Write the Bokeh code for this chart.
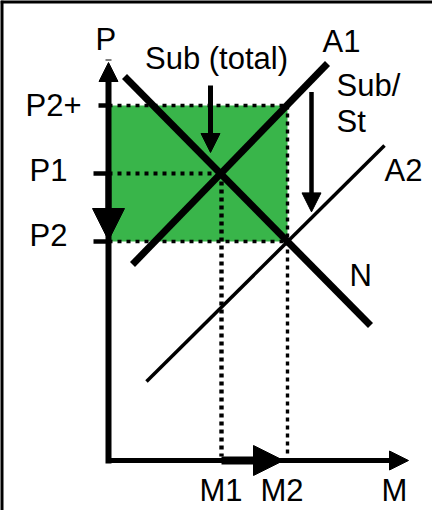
import numpy as np
from bokeh.plotting import figure
from bokeh.models import Range1d, Arrow, NormalHead, Span, ColumnDataSource
from bokeh.core.properties import value
from bokeh.embed import file_html
from bokeh.resources import INLINE

# ---- diagram values (in diagram units) ----
quantity_labels = ["M1", "M2"]
quantity_values = [11.3, 17.9]
price_labels = ["P2+", "P1", "P2"]
price_values = [35.5, 28.7, 21.9]
axis_max_m = 30.0
axis_max_p = 39.8

demand_N_x = [1.6, 26.2]
demand_N_y = [38.4, 13.5]
supply_A1_x = [2.4, 21.9]
supply_A1_y = [19.6, 39.7]
supply_A2_x = [3.8, 27.6]
supply_A2_y = [7.9, 31.5]

M1, M2 = quantity_values
P2p, P1, P2 = price_values

FONT = value("Liberation Sans")
FS = "31px"
GREEN = "#39B54A"

p = figure(width=432, height=510, x_range=Range1d(-10.8, 32.4), y_range=Range1d(-5.0, 46.0),
           output_backend="svg", toolbar_location=None, x_axis_location=None,
           y_axis_location=None, min_border=0, outline_line_color=None,
           background_fill_color="white", border_fill_color="white")
p.grid.visible = False

# frame bars (top / left)
p.add_layout(Span(location=46.0, dimension="width", line_color="black", line_width=6))
p.add_layout(Span(location=-10.8, dimension="height", line_color="black", line_width=6))

# subsidy area
p.quad(left=[0], right=[M2], bottom=[P2], top=[P2p], fill_color=GREEN, line_color=None)

# dotted guide lines
p.segment(x0=[0, 0], y0=[P2p, P2], x1=[M2, M2], y1=[P2p, P2], line_color="black",
          line_width=3.6, line_dash="4 5")
p.segment(x0=[M2], y0=[P2p], x1=[M2], y1=[0.4], line_color="black", line_width=3.4, line_dash="4 4")
p.segment(x0=[0], y0=[P1], x1=[M1], y1=[P1], line_color="black", line_width=4.2, line_dash="4 5")
p.segment(x0=[M1], y0=[P1], x1=[M1], y1=[0.4], line_color="black", line_width=4.4, line_dash="4 4")

# ticks on the price axis
p.segment(x0=[-1.0, -1.5, -1.5], y0=price_values, x1=[0, 0, 0], y1=price_values,
          line_color="black", line_width=4.5)

# curves
p.line(supply_A2_x, supply_A2_y, line_color="black", line_width=3.5)
p.line(demand_N_x, demand_N_y, line_color="black", line_width=7)
p.line(supply_A1_x, supply_A1_y, line_color="black", line_width=7)

def arrow(x0, y0, x1, y1, size, width, cap="butt"):
    p.add_layout(Arrow(end=NormalHead(size=size, fill_color="black", line_color="black", line_width=1),
                       x_start=x0, y_start=y0, x_end=x1, y_end=y1,
                       line_color="black", line_width=width, line_cap=cap))

# axes
arrow(0, 0, 0, axis_max_p, 19, 6, "square")
arrow(0, 0, axis_max_m, 0, 19, 5)

# price fall P1 -> P2 and quantity rise M1 -> M2
arrow(0, P1, 0, P2 + 0.1, 32, 6)
arrow(M1, 0, M2 - 0.4, 0, 30, 8)

# subsidy arrows
sub_x = M1 - 1.1
arrow(sub_x, 37.5, sub_x, P1 + 2.1, 19, 5)
st_x = M2 + 2.4
a1_at = np.interp(st_x, supply_A1_x, supply_A1_y)
a2_at = np.interp(st_x, supply_A2_x, supply_A2_y)
arrow(st_x, a1_at - 1.2, st_x, a2_at + 0.6, 19, 4.5)

# texts: anchor + pixel offsets
labels = ["P", "M", "M1", "M2", "P2+", "P1", "P2", "Sub (total)", "A1", "Sub/", "St", "A2", "N"]
ax = [0, axis_max_m, M1, M2, 0, 0, 0, sub_x, supply_A1_x[1], st_x, st_x, supply_A2_x[1], demand_N_x[1]]
ay = [axis_max_p, 0, 0, 0, P2p, P1, P2, 37.5, supply_A1_y[1], a1_at - 1.2, a1_at - 1.2,
      supply_A2_y[1], demand_N_y[1]]
dx = [-13, -27, -22, -27, -83, -79, -79, -65.5, -5, 25, 25, 0, -21]
dy = [-13, 40, 40, 40, 10, 7, 4, -17, -12.5, 4, 40, 35, -40]
SHIFT = -10
src = ColumnDataSource(dict(x=ax, y=ay, text=labels, xo=dx, yo=[d + SHIFT for d in dy]))
p.text(x="x", y="y", text="text", x_offset="xo", y_offset="yo", source=src,
       text_font=FONT, text_font_size=FS, text_color="black",
       text_align="left", text_baseline="alphabetic")

open("out.html", "w").write(file_html(p, INLINE))
